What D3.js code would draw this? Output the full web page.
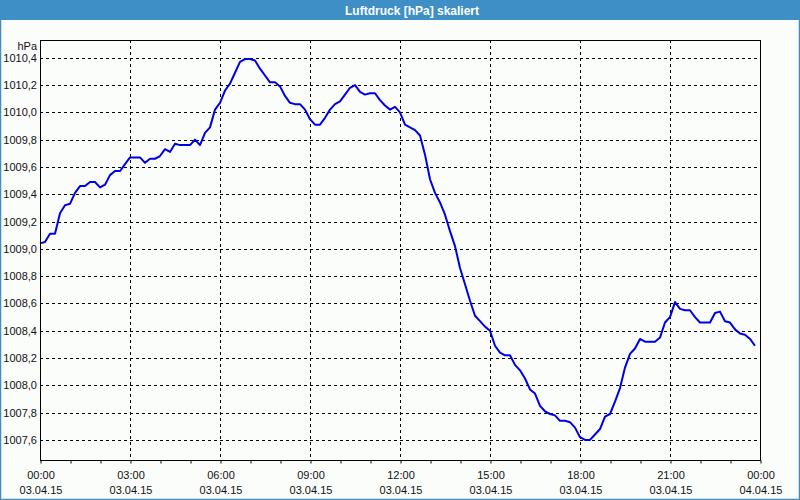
<!DOCTYPE html>
<html><head><meta charset="utf-8">
<script src="https://cdn.jsdelivr.net/npm/d3@7"></script>
<style>html,body{margin:0;padding:0;background:#fbfdfb;}svg{display:block;}</style>
</head><body>
<svg id="chart" width="800" height="500"></svg>
<script>
const title = "Luftdruck [hPa] skaliert";
const unitLabel = "hPa";
// minutes since 03.04.15 00:00, step 10 min
const values = [
1009.04,1009.05,1009.11,1009.11,1009.26,1009.32,1009.33,1009.41,1009.46,1009.46,
1009.49,1009.49,1009.45,1009.47,1009.54,1009.57,1009.57,1009.62,1009.67,1009.67,
1009.67,1009.63,1009.66,1009.66,1009.68,1009.73,1009.71,1009.77,1009.76,1009.76,
1009.76,1009.80,1009.76,1009.85,1009.89,1010.02,1010.07,1010.16,1010.21,1010.29,
1010.37,1010.39,1010.39,1010.38,1010.32,1010.27,1010.22,1010.22,1010.19,1010.12,
1010.07,1010.06,1010.06,1010.02,1009.95,1009.91,1009.91,1009.96,1010.02,1010.06,
1010.08,1010.13,1010.18,1010.20,1010.15,1010.13,1010.14,1010.14,1010.09,1010.05,
1010.02,1010.04,1010.00,1009.91,1009.89,1009.87,1009.83,1009.69,1009.51,1009.41,
1009.34,1009.25,1009.13,1009.02,1008.86,1008.74,1008.62,1008.51,1008.47,1008.43,
1008.40,1008.29,1008.24,1008.22,1008.22,1008.15,1008.11,1008.05,1007.97,1007.94,
1007.85,1007.81,1007.79,1007.78,1007.74,1007.74,1007.73,1007.69,1007.62,1007.60,
1007.60,1007.64,1007.68,1007.77,1007.79,1007.88,1007.98,1008.13,1008.23,1008.27,
1008.34,1008.32,1008.32,1008.32,1008.35,1008.46,1008.50,1008.61,1008.56,1008.55,
1008.55,1008.50,1008.46,1008.46,1008.46,1008.53,1008.54,1008.47,1008.46,1008.41,
1008.38,1008.37,1008.34,1008.29
];
const stepMinutes = 10;
const yTicks = [1007.6,1007.8,1008.0,1008.2,1008.4,1008.6,1008.8,1009.0,1009.2,1009.4,1009.6,1009.8,1010.0,1010.2,1010.4];
const xTickTimes = ["00:00","03:00","06:00","09:00","12:00","15:00","18:00","21:00","00:00"];
const xTickDates = ["03.04.15","03.04.15","03.04.15","03.04.15","03.04.15","03.04.15","03.04.15","03.04.15","04.04.15"];

const start = new Date(2015,3,3,0,0);
const data = values.map((v,i)=>({t:new Date(start.getTime()+i*stepMinutes*60000), v}));

const svg = d3.select("#chart");
const W=800,H=500;
const L=40,R=760,T=40,B=460;
const font = "'Liberation Sans', Arial, sans-serif";

// window frame
svg.append("rect").attr("x",0).attr("y",0).attr("width",W).attr("height",H).attr("fill","#fbfdfb");
svg.append("rect").attr("x",0.5).attr("y",0.5).attr("width",W-1).attr("height",H-1)
  .attr("fill","none").attr("stroke","#3d8fc6").attr("stroke-width",1.5);
svg.append("rect").attr("x",0).attr("y",0).attr("width",W).attr("height",20).attr("fill","#3d8fc6");
svg.append("text").attr("x",412).attr("y",14.5).attr("text-anchor","middle")
  .attr("fill","#fff").attr("font-family",font).attr("font-weight","bold").attr("font-size","12px").text(title);

const x = d3.scaleTime().domain([start, new Date(2015,3,4,0,0)]).range([L,R]);
const y = d3.scaleLinear().domain([1007.453,1010.53]).range([B,T]);

const g = svg.append("g");
// horizontal grid
g.selectAll("line.hg").data(yTicks).join("line").attr("class","hg")
  .attr("x1",L).attr("x2",R).attr("y1",d=>Math.round(y(d))+0.5).attr("y2",d=>Math.round(y(d))+0.5)
  .attr("stroke","#000").attr("stroke-width",1).attr("stroke-dasharray","3,3");
// vertical grid
const majors = d3.range(1,8).map(i=>new Date(start.getTime()+i*3*3600000));
g.selectAll("line.vg").data(majors).join("line").attr("class","vg")
  .attr("y1",T).attr("y2",B).attr("x1",d=>Math.round(x(d))+0.5).attr("x2",d=>Math.round(x(d))+0.5)
  .attr("stroke","#000").attr("stroke-width",1).attr("stroke-dasharray","3,3");

// line
const line = d3.line().x(d=>x(d.t)).y(d=>y(d.v));
g.append("path").datum(data).attr("d",line).attr("fill","none")
  .attr("stroke","#0000e6").attr("stroke-width",2).attr("stroke-linejoin","round");

// frame
g.append("rect").attr("x",L+0.5).attr("y",T+0.5).attr("width",R-L).attr("height",B-T)
  .attr("fill","none").attr("stroke","#000").attr("stroke-width",1);

// x axis ticks (hourly)
const xAxis = d3.axisBottom(x).ticks(d3.timeHour.every(1)).tickSize(3).tickFormat("");
const xa = svg.append("g").attr("transform",`translate(0.5,${B+0.5})`).call(xAxis);
xa.select(".domain").remove();
xa.selectAll("line").attr("stroke","#000");

// x labels
const labelTimes = d3.range(0,9).map(i=>new Date(start.getTime()+i*3*3600000));
labelTimes.forEach((t,i)=>{
  svg.append("text").attr("x",x(t)+1).attr("y",479).attr("text-anchor","middle")
    .attr("font-family",font).attr("font-size","11px").attr("fill","#111").text(xTickTimes[i]);
  svg.append("text").attr("x",x(t)+1).attr("y",494).attr("text-anchor","middle")
    .attr("font-family",font).attr("font-size","11px").attr("fill","#111").text(xTickDates[i]);
});

// y labels
const fmt = d=>d.toFixed(1).replace(".",",");
svg.selectAll("text.yl").data(yTicks).join("text").attr("class","yl")
  .attr("x",37).attr("y",d=>y(d)+4).attr("text-anchor","end")
  .attr("font-family",font).attr("font-size","11px").attr("fill","#111").text(fmt);
svg.append("text").attr("x",37).attr("y",50).attr("text-anchor","end")
  .attr("font-family",font).attr("font-size","11px").attr("fill","#111").text(unitLabel);
</script>
</body></html>
